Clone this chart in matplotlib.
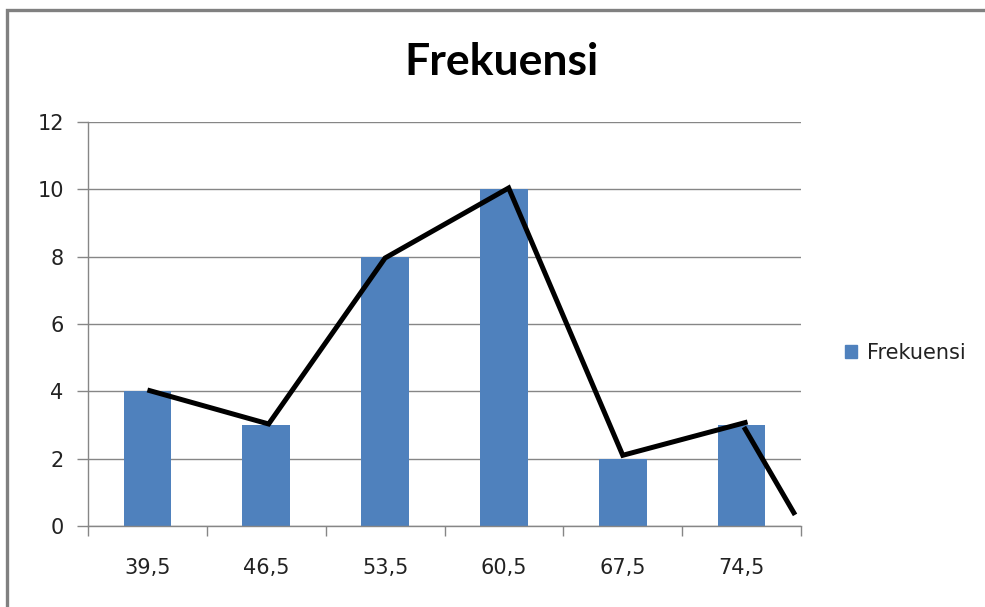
import matplotlib.pyplot as plt
from matplotlib.patches import Rectangle, Patch

# data
kelas = ["39,5", "46,5", "53,5", "60,5", "67,5", "74,5"]
frekuensi = [4, 3, 8, 10, 2, 3]

# hand drawn polygon (in category index / value units)
poly_x = [0.0, 1.02, 2.0, 3.04, 4.0, 5.05]
poly_y = [4.04, 3.03, 7.96, 10.04, 2.1, 3.09]
tail_x = [5.02, 5.45]
tail_y = [2.94, 0.33]

plt.rcParams['font.family'] = ['DejaVu Sans']

fig = plt.figure(figsize=(9.85, 6.07), dpi=100)
ax = fig.add_axes([88/985, 81/607, 713/985, 404/607])

gray = '#868686'
blue = '#4f81bd'

x = list(range(len(kelas)))
ax.bar(x, frekuensi, width=0.4, color=blue, zorder=2)

ax.plot(poly_x, poly_y, color='black', lw=3.6, solid_capstyle='butt',
        solid_joinstyle='miter', zorder=3)
ax.plot(tail_x, tail_y, color='black', lw=3.6, solid_capstyle='butt', zorder=3)

ax.set_xlim(-0.5, 5.5)
ax.set_ylim(0, 12)
ax.set_yticks(range(0, 13, 2))
ax.set_xticks(x)
ax.set_xticklabels(kelas)
ax.set_xticks([i - 0.5 for i in range(7)], minor=True)
ax.tick_params(axis='x', which='major', length=0, pad=23, labelsize=15,
               labelcolor='#222222')
ax.tick_params(axis='x', which='minor', length=7, color=gray, width=1)
ax.tick_params(axis='y', length=8, color=gray, width=1, pad=9.5, labelsize=15,
               labelcolor='#222222')
ax.grid(axis='y', color=gray, lw=1, zorder=0)
ax.set_axisbelow(True)
for s in ['top', 'right']:
    ax.spines[s].set_visible(False)
for s in ['left', 'bottom']:
    ax.spines[s].set_color(gray)
    ax.spines[s].set_linewidth(1)

fig.text(501/985, 1 - 62/607, "Frekuensi", ha='center', va='center',
         fontsize=32, fontweight='bold', family=['Lato', 'DejaVu Sans'])

ax.legend(handles=[Patch(color=blue, label="Frekuensi")], loc='center left',
          bbox_to_anchor=(826/985, 1 - 353/607), bbox_transform=fig.transFigure,
          frameon=False, handlelength=0.6, handleheight=0.6, handletextpad=0.45,
          fontsize=15, labelcolor='#222222')

# outer chart border
fig.patches.append(Rectangle((7/985, -0.1), 1.2, 1 - 10/607 + 0.1,
                             transform=fig.transFigure, fill=False,
                             edgecolor='#808080', lw=2.4))

fig.savefig("out.png", dpi=100)
